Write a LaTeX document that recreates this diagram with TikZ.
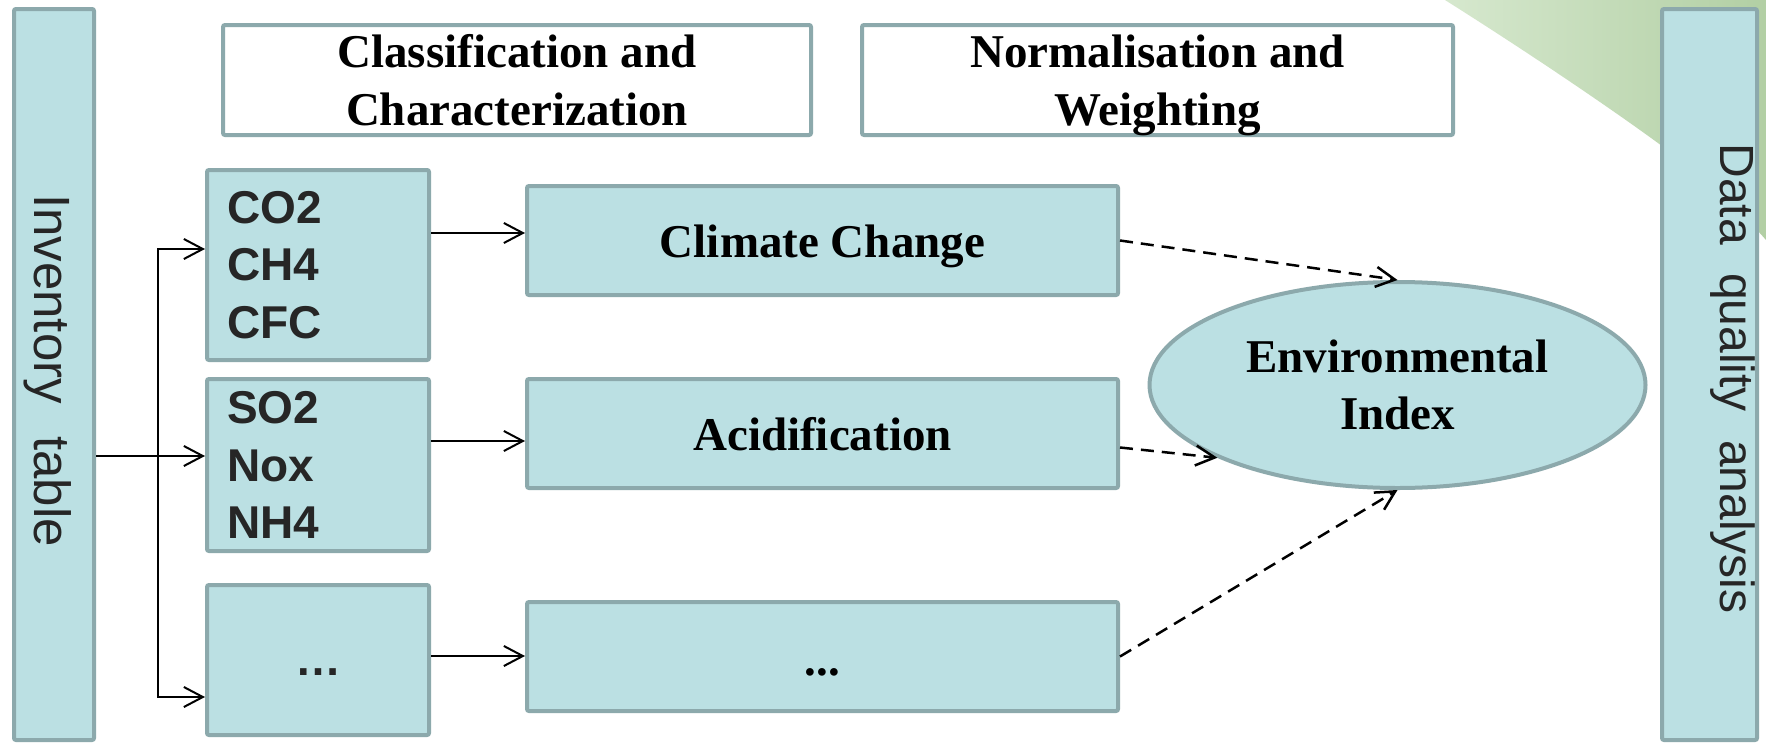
\documentclass[tikz,border=0pt]{standalone}
\usepackage{fontspec}
\setmainfont{Liberation Serif}
\setsansfont{Liberation Sans}
\usetikzlibrary{arrows.meta,shapes.geometric,calc}
\definecolor{boxfill}{HTML}{BBE0E3}
\definecolor{boxline}{HTML}{8CA9AC}
\definecolor{txtdark}{HTML}{262626}
\definecolor{leafA}{HTML}{D6E8CE}
\definecolor{leafB}{HTML}{B2CFA4}
\tikzset{mytip/.tip={Straight Barb[length=19pt,width=20pt]}}
\begin{document}
\begin{tikzpicture}[x=1pt,y=-1pt,
  box/.style={draw=boxline, line width=4pt, fill=boxfill, rounded corners=2pt, inner sep=0pt},
  hbox/.style={box, fill=white},
  ebox/.style={draw=boxline, line width=4pt, fill=boxfill, ellipse, inner sep=0pt},
  serifb/.style={font=\bfseries\fontsize{47}{58}\selectfont, text=black},
  sansb/.style={font=\sffamily\bfseries\fontsize{46}{57.5}\selectfont, text=txtdark},
  vtext/.style={text=txtdark, rotate=-90, inner sep=0pt},
  arr/.style={-mytip, line width=2pt},
  arrboth/.style={mytip-mytip, line width=2pt},
  darr/.style={-mytip, line width=2.5pt, dash pattern=on 13pt off 8pt},
]
\useasboundingbox (0,0) rectangle (1766,744);
\fill[white] (0,0) rectangle (1766,744);
% green leaf in the corner
\shade[left color=leafA, right color=leafB] (1445,0) .. controls (1540,60) and (1620,115) .. (1662,146)
  .. controls (1700,175) and (1740,210) .. (1766,240) -- (1766,0) -- cycle;

% side bars
\node[box, minimum width=80pt, minimum height=731pt] (inv) at (54,374.5) {};
\node[box, minimum width=95pt, minimum height=731pt] (dqa) at (1709.5,374.5) {};
\node[vtext, font=\sffamily\fontsize{51}{60}\selectfont] (invt) at (48,370.5) {Inventory\hspace{18pt} table};
\node[vtext, font=\sffamily\fontsize{48}{58}\selectfont] (dqat) at (1732.5,378.5) {Data\hspace{15pt} quality\hspace{15pt} analysis};

% top headers
\node[hbox, serifb, align=center, minimum width=588pt, minimum height=110pt] (cc) at (517,80) {Classification and\\Characterization};
\node[hbox, serifb, align=center, minimum width=591pt, minimum height=110pt] (nw) at (1157.5,80) {Normalisation and\\\smash{Weighting}};

% left column
\node[box, sansb, align=left, text width=182pt, inner xsep=20pt, minimum width=222pt, minimum height=190pt] (L1) at (318,265) {CO2\\CH4\\CFC};
\node[box, sansb, align=left, text width=182pt, inner xsep=20pt, minimum width=222pt, minimum height=172pt] (L2) at (318,465) {SO2\\Nox\\NH4};
\node[box, minimum width=222pt, minimum height=150pt] (L3) at (318,660) {};
\node[sansb, anchor=base, inner sep=0pt] (L3t) at (318,675) {…};

% middle column
\node[box, minimum width=591pt, minimum height=109pt] (M1) at (822.5,240.5) {};
\node[serifb, anchor=base, inner sep=0pt] (M1t) at (822.5,257) {Climate Change};
\node[box, minimum width=591pt, minimum height=109pt] (M2) at (822.5,433.5) {};
\node[serifb, anchor=base, inner sep=0pt] (M2t) at (822.5,450) {Acidification};
\node[box, minimum width=591pt, minimum height=109pt] (M3) at (822.5,656.5) {};
\node[serifb, anchor=base, inner sep=0pt] (M3t) at (822.5,675) {...};

% ellipse
\node[ebox, serifb, align=center, font=\bfseries\fontsize{47}{57}\selectfont, minimum width=496pt, minimum height=206pt] (E) at (1397.5,385) {Environmental\\Index};

% solid connectors
\coordinate (jx) at (158,456);
\coordinate (a1) at ([yshift=16pt]L1.west);
\coordinate (a2) at ([yshift=9pt]L2.west);
\coordinate (a3) at ([yshift=-37pt]L3.west);
\draw[arr] (inv.east |- a2) -- (a2);
\draw[arrboth] (a1) -| (jx) |- (a3);

\coordinate (b1) at ([yshift=32pt]L1.east);
\coordinate (b2) at ([yshift=24pt]L2.east);
\coordinate (b3) at ([yshift=4pt]L3.east);
\draw[arr] (b1) -- (b1 -| M1.west);
\draw[arr] (b2) -- (b2 -| M2.west);
\draw[arr] (b3) -- (b3 -| M3.west);

% dashed connectors
\draw[darr] (M1.east) -- (E.north);
\draw[darr] ([yshift=-14pt]M2.east) -- (E.202);
\draw[darr] (M3.east) -- (E.south);
\end{tikzpicture}
\end{document}
